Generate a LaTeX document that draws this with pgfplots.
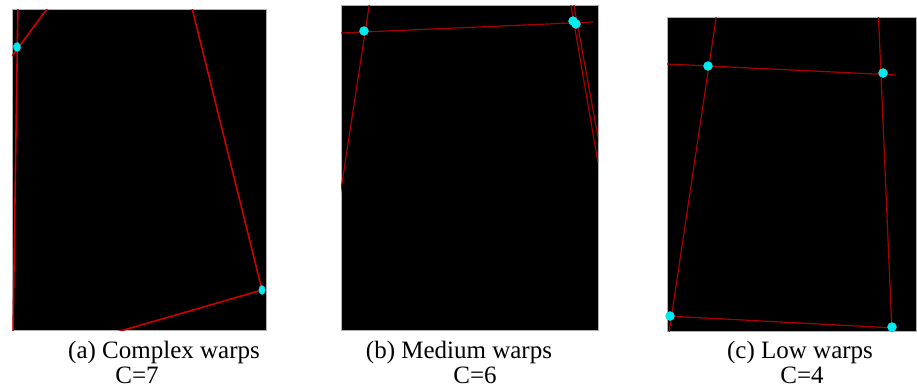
\documentclass[border=0pt]{standalone}
\usepackage{pgfplots}
\pgfplotsset{compat=1.18}
\usepackage{fontspec}
\setmainfont{Liberation Serif}
\definecolor{wred}{RGB}{205,0,0}
\definecolor{wdred}{RGB}{170,0,0}
\definecolor{wcyan}{RGB}{0,235,240}
\pgfplotsset{
  panel/.style={
    scale only axis, y dir=reverse, anchor=north west,
    xtick=\empty, ytick=\empty,
    axis background/.style={fill=black},
    axis line style={gray!60, line width=0.8pt},
    clip=true,
  },
  warp/.style={wred, line width=1.6pt, no marks},
  thinwarp/.style={wdred, line width=1.2pt, no marks},
  dot/.style={only marks, mark=*, mark size=4.5pt, color=wcyan},
}
\begin{document}
\begin{tikzpicture}[captxt/.style={anchor=base, inner sep=0pt, font=\fontsize{25}{28}\selectfont}]
\path[use as bounding box] (0pt,0pt) rectangle (917pt,-389pt);
% (a)
\begin{axis}[panel, at={(12pt,-9pt)}, width=254pt, height=321pt,
  xmin=12, xmax=266, ymin=9, ymax=330]
\addplot[warp] coordinates {(18,0) (13,335)};
\addplot[warp] coordinates {(12,56) (47,9) (54,0)};
\addplot[warp] coordinates {(190,0) (262,290)};
\addplot[warp] coordinates {(262,290) (110,334)};
\addplot[dot, mark options={xscale=0.8, rotate=30, fill=wcyan, draw=wcyan}] coordinates {(17,47)};
\addplot[dot, mark options={xscale=0.7, fill=wcyan, draw=wcyan}] coordinates {(262,290)};
\end{axis}
% (b)
\begin{axis}[panel, at={(341pt,-5pt)}, width=257pt, height=325pt,
  xmin=341, xmax=598, ymin=5, ymax=330]
\addplot[thinwarp] coordinates {(341,33) (593,22)};
\addplot[thinwarp] coordinates {(370,0) (342,183) (340,196)};
\addplot[thinwarp] coordinates {(570,0) (598,163)};
\addplot[thinwarp] coordinates {(573,0) (600,148)};
\addplot[dot] coordinates {(364,31)};
\addplot[dot] coordinates {(573,21) (576,24)};
\end{axis}
% (c)
\begin{axis}[panel, at={(667pt,-17pt)}, width=249pt, height=314pt,
  xmin=667, xmax=916, ymin=17, ymax=331]
\addplot[thinwarp] coordinates {(667,64) (896,75)};
\addplot[thinwarp] coordinates {(718,5) (669,333)};
\addplot[thinwarp] coordinates {(878,5) (892,333)};
\addplot[thinwarp] coordinates {(667,316) (895,328)};
\addplot[dot] coordinates {(708,66) (883,73) (670,316) (892,327)};
\end{axis}
% captions
\node[captxt] at (164pt,-358pt) {(a) Complex warps};
\node[captxt] at (137pt,-383pt) {C=7};
\node[captxt] at (459pt,-358pt) {(b) Medium warps};
\node[captxt] at (475pt,-383pt) {C=6};
\node[captxt] at (800pt,-358pt) {(c) Low warps};
\node[captxt] at (802pt,-383pt) {C=4};
\end{tikzpicture}
\end{document}
